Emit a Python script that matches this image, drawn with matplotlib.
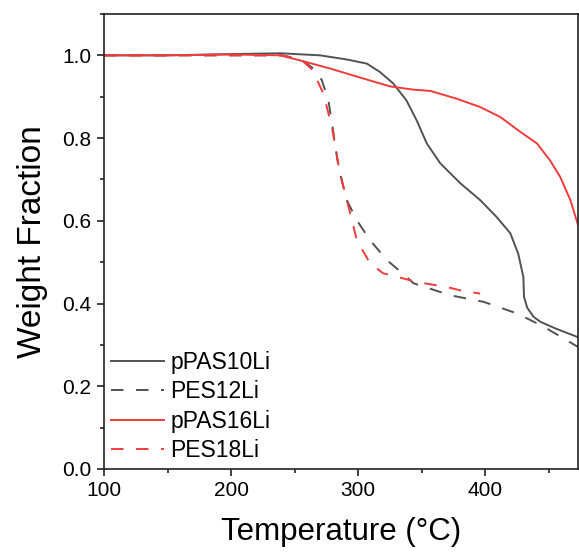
import matplotlib
matplotlib.use('Agg')
import matplotlib.pyplot as plt
from matplotlib.ticker import MultipleLocator

plt.rcParams['font.family'] = ['Liberation Sans', 'DejaVu Sans']
plt.rcParams['lines.scale_dashes'] = False

# pPAS10Li (gray solid)
t_p10 = [100, 150, 200, 238.6, 270, 291, 306.8, 317, 327.6, 338, 346, 354, 364.6, 380.3, 396, 409,
         419.7, 426, 430, 430.5, 433, 438, 443.3, 455, 473.5]
w_p10 = [1.0, 1.0, 1.003, 1.005, 1.0, 0.99, 0.98, 0.96, 0.932, 0.891, 0.843, 0.787, 0.739, 0.691, 0.65, 0.609,
         0.57, 0.52, 0.464, 0.416, 0.39, 0.368, 0.356, 0.34, 0.318]

# PES12Li (gray dashed)
t_p12 = [100, 150, 200, 240, 255, 264.8, 271.4, 276.6, 280.6, 284.5, 291, 299, 309.4, 322.6, 338.3,
         343.5, 372.4, 398.7, 425, 446, 473.5]
w_p12 = [1.0, 1.0, 1.0, 1.0, 0.99, 0.968, 0.94, 0.891, 0.811, 0.73, 0.65, 0.601, 0.553, 0.505, 0.464,
         0.449, 0.42, 0.404, 0.376, 0.344, 0.294]

# pPAS16Li (red solid)
t_p16 = [100, 150, 200, 238.6, 254, 278, 304, 325, 343.5, 356.7, 377.7, 396, 411.8, 427.6, 440.7,
         451, 459, 467, 473.5]
w_p16 = [1.0, 1.0, 1.002, 1.0, 0.988, 0.968, 0.944, 0.925, 0.917, 0.914, 0.895, 0.875, 0.851, 0.815, 0.787,
         0.746, 0.706, 0.65, 0.585]

# PES18Li (red dashed)
t_p18 = [100, 150, 200, 240, 255, 264, 272.7, 279.3, 285.8, 292.4, 299, 309.4, 319.7, 325.2, 346,
         369.8, 380, 396]
w_p18 = [1.0, 1.0, 1.0, 1.0, 0.99, 0.965, 0.907, 0.827, 0.714, 0.634, 0.553, 0.497, 0.473, 0.469, 0.452,
         0.44, 0.432, 0.424]

gray = '#525252'
red = '#ef3b3b'

fig = plt.figure(figsize=(5.79, 5.52), dpi=100)
ax = fig.add_axes([0.1796, 0.1504, 0.8187, 0.8243])

ax.plot(t_p10, w_p10, color=gray, lw=1.4, label='pPAS10Li')
ax.plot(t_p12, w_p12, color=gray, lw=1.4, dashes=(9, 9), label='PES12Li')
ax.plot(t_p16, w_p16, color=red, lw=1.4, label='pPAS16Li')
ax.plot(t_p18, w_p18, color=red, lw=1.4, dashes=(9, 9), label='PES18Li')

ax.set_xlim(100, 473)
ax.set_ylim(0, 1.1)
ax.xaxis.set_major_locator(MultipleLocator(100))
ax.xaxis.set_minor_locator(MultipleLocator(50))
ax.yaxis.set_major_locator(MultipleLocator(0.2))
ax.yaxis.set_minor_locator(MultipleLocator(0.1))
ax.yaxis.set_major_formatter(plt.FormatStrFormatter('%.1f'))
ax.tick_params(which='major', direction='out', length=5, width=1.2, labelsize=15, color='#222222', pad=4)
ax.tick_params(which='minor', direction='out', length=3, width=1.2, color='#222222')
for s in ax.spines.values():
    s.set_linewidth(1.2)
    s.set_color('#222222')

ax.set_xlabel('Temperature (°C)', fontsize=22.5, labelpad=12)
ax.set_ylabel('Weight Fraction', fontsize=24, labelpad=10)

ax.legend(loc='lower left', frameon=False, fontsize=16.5, handlelength=2.3, handletextpad=0.3,
          labelspacing=0.28, borderpad=0.3, borderaxespad=0.0)

fig.savefig('out.png', dpi=100)
